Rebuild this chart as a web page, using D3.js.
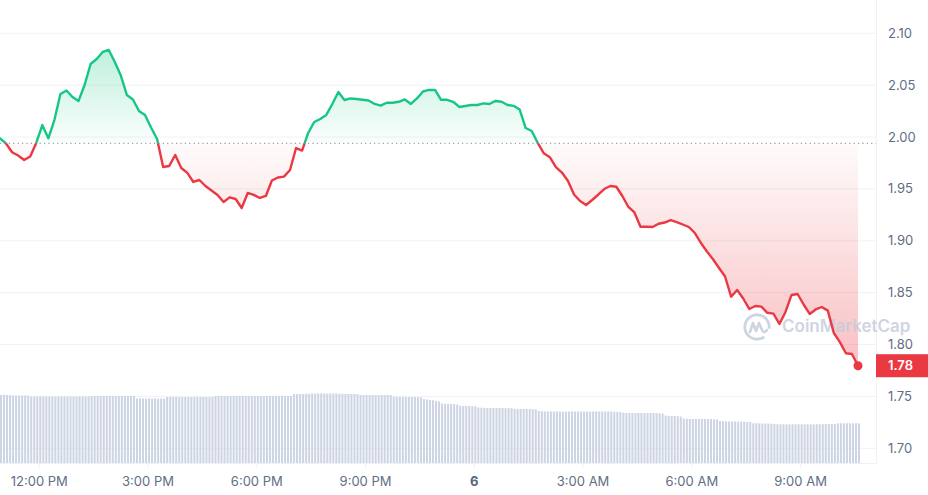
<!DOCTYPE html>
<html>
<head>
<meta charset="utf-8">
<script src="https://cdn.jsdelivr.net/npm/d3@7"></script>
<style>
  html, body { margin: 0; padding: 0; background: #fff; }
  #chart { width: 928px; height: 495px; }
  text { font-family: Inter, "Noto Sans", sans-serif; }
</style>
</head>
<body>
<div id="chart"></div>
<script>
// price: 10 minute samples, volume: 5 minute samples, both from 10:55 AM
const startTime = new Date(2024, 2, 5, 10, 55);
const priceStepMinutes = 10;
const volumeStepMinutes = 5;

const prices = [
  1.9988, 1.9938, 1.9853, 1.9822, 1.9779, 1.9813, 1.9943, 2.0116, 1.9988, 2.0164,
  2.0415, 2.0449, 2.0386, 2.0348, 2.0502, 2.0704, 2.0752, 2.0820, 2.0839, 2.0723,
  2.0593, 2.0405, 2.0362, 2.0251, 2.0213, 2.0092, 1.9981, 1.9711, 1.9721, 1.9827,
  1.9702, 1.9654, 1.9567, 1.9586, 1.9528, 1.9485, 1.9442, 1.9374, 1.9419, 1.9403,
  1.9316, 1.9461, 1.9442, 1.9413, 1.9432, 1.9581, 1.9610, 1.9619, 1.9682, 1.9894,
  1.9870, 2.0039, 2.0145, 2.0174, 2.0213, 2.0319, 2.0434, 2.0357, 2.0372, 2.0367,
  2.0359, 2.0352, 2.0319, 2.0303, 2.0331, 2.0331, 2.0340, 2.0362, 2.0319, 2.0372,
  2.0439, 2.0454, 2.0454, 2.0359, 2.0359, 2.0340, 2.0290, 2.0299, 2.0309, 2.0309,
  2.0325, 2.0319, 2.0348, 2.0340, 2.0309, 2.0301, 2.0266, 2.0087, 2.0058, 1.9943,
  1.9843, 1.9806, 1.9711, 1.9658, 1.9576, 1.9446, 1.9384, 1.9345, 1.9393, 1.9444,
  1.9499, 1.9528, 1.9521, 1.9432, 1.9326, 1.9273, 1.9136, 1.9136, 1.9133, 1.9164,
  1.9176, 1.9200, 1.9181, 1.9157, 1.9133, 1.9075, 1.8979, 1.8897, 1.8822, 1.8738,
  1.8656, 1.8461, 1.8526, 1.8444, 1.8343, 1.8372, 1.8365, 1.8306, 1.8298, 1.8198,
  1.8314, 1.8478, 1.8487, 1.8386, 1.8295, 1.8338, 1.8362, 1.8327, 1.8111, 1.8023,
  1.7916, 1.7909, 1.7796
];

// 24h volume, $M
const volumes = [
  68.0, 68.2, 68.0, 67.8,
  67.5, 67.5, 67.4, 67.5, 67.6, 67.5,
  66.5, 66.5, 66.4, 66.5, 66.5, 66.6, 66.5, 66.5, 66.4, 66.5,
  66.5, 66.5, 66.6, 66.5, 66.5, 66.4, 66.5, 66.5, 66.5, 66.5,
  67.0, 67.1, 67.0, 67.0, 67.2, 67.0, 67.0, 66.9, 67.0, 67.0,
  67.1, 67.0, 67.0, 67.0, 66.9,
  64.5, 64.6, 64.5, 64.4, 64.5, 64.5, 64.6, 64.5, 64.5, 64.4,
  66.0, 66.0, 66.1, 66.0, 66.0, 66.0, 65.9, 66.0, 66.0, 66.1,
  66.0, 66.0, 66.0, 66.0, 66.1, 66.0,
  67.0, 67.0, 67.1, 67.0, 67.0, 66.9, 67.0, 67.0, 67.0, 67.1,
  67.0, 67.0, 67.0, 67.0, 66.9, 67.0, 67.0, 67.1, 67.0, 67.0,
  67.0, 67.0, 67.1, 67.0, 67.0, 67.0,
  69.0, 69.0, 69.1, 69.0, 69.2, 69.3, 69.5, 69.4, 69.5, 69.6,
  69.5, 69.4, 69.5, 69.6, 69.5, 69.3, 69.2, 69.0, 69.0, 69.1,
  69.0, 69.0,
  68.0, 68.0, 68.1, 68.0, 68.0, 67.9, 68.0, 68.0, 68.0, 68.1,
  68.0,
  66.3, 66.2, 66.0, 66.0, 66.1, 66.0, 65.9, 66.0, 65.8, 65.6,
  64.0, 63.5, 63.0, 62.8, 62.0, 61.5,
  59.5, 59.3, 59.0, 59.0, 58.8, 58.5,
  57.3, 57.0, 57.0, 57.0, 56.9, 56.8,
  55.5, 55.3, 55.1, 55.0, 55.0, 55.0, 55.1, 55.0, 55.0, 54.9,
  54.9, 54.8,
  54.2, 54.1, 54.0, 54.0, 54.0, 53.9, 53.8, 53.7,
  52.0, 51.8, 51.6, 51.5, 51.5, 51.5, 51.6, 51.5, 51.5, 51.4,
  51.5, 51.5, 51.5, 51.6, 51.5, 51.5, 51.5, 51.4, 51.5, 51.5,
  51.5, 51.6, 51.5, 51.5, 51.4, 51.3, 51.2, 51.0,
  50.2, 50.1, 50.0, 50.0, 50.0, 50.1, 50.0, 50.0, 49.9, 50.0,
  50.0, 49.8, 49.6, 49.4,
  47.5, 47.2, 47.0, 47.0, 46.8, 46.5,
  44.5, 44.3, 44.1, 44.0, 44.0, 44.0, 44.1, 44.0, 43.9, 43.8,
  43.6, 43.4,
  42.0, 41.8, 41.6, 41.5, 41.5, 41.5, 41.4, 41.5, 41.4, 41.2,
  41.0,
  39.8, 39.7, 39.6, 39.5, 39.5, 39.4, 39.3, 39.1,
  38.8, 38.7, 38.7, 38.6, 38.7, 38.7, 38.7, 38.8, 38.7, 38.7,
  38.7, 38.6, 38.7, 38.7, 38.8, 38.8, 38.9, 38.9, 39.0, 39.1,
  39.7, 39.8, 39.7, 39.7, 39.7, 39.6, 39.7, 39.7
];

const openPrice = 1.994;
const priceTicks = [1.70, 1.75, 1.80, 1.85, 1.90, 1.95, 2.00, 2.05, 2.10];


class PriceChart {

  constructor(times, values, volTimes, volume) {

    this._times = times;
    this._values = values;
    this._volTimes = volTimes;
    this._volume = volume;

    this._width = 928;
    this._height = 495;
    this._dataRight = 858;
    this._plotRight = 876;
    this._plotBottom = 463;

    this._up = '#16c784';
    this._down = '#ea3943';
    this._muted = '#616e85';
    this._grid = '#eff2f5';
  }


  renderTo(selector) {

    this._container = d3.select(selector);
    this._container.selectAll('*').remove();

    this._svg = this._container
      .append('svg')
      .attr('width', this._width)
      .attr('height', this._height);

    this._x = d3.scaleTime()
      .domain(d3.extent(this._times))
      .range([0, this._dataRight]);

    this._y = d3.scaleLinear()
      .domain([1.70, 2.10])
      .range([448.3, 33.3]);

    this._yVol = d3.scaleLinear()
      .domain([0, 70])
      .range([this._plotBottom, this._plotBottom - 70]);

    this._defs = this._svg.append('defs');
    this._addGradients();

    this._drawGrid();
    this._drawVolume();
    this._drawArea();
    this._drawWatermark();
    this._drawLine();
    this._drawAxes();
    this._drawLastPrice();

    return this;
  }


  _addGradients() {

    const base = this._y(openPrice);

    const green = this._defs.append('linearGradient')
      .attr('id', 'grad-up')
      .attr('gradientUnits', 'userSpaceOnUse')
      .attr('x1', 0).attr('x2', 0)
      .attr('y1', this._y(d3.max(this._values)))
      .attr('y2', base);
    green.append('stop').attr('offset', 0).attr('stop-color', this._up).attr('stop-opacity', 0.27);
    green.append('stop').attr('offset', 1).attr('stop-color', this._up).attr('stop-opacity', 0.02);

    const red = this._defs.append('linearGradient')
      .attr('id', 'grad-down')
      .attr('gradientUnits', 'userSpaceOnUse')
      .attr('x1', 0).attr('x2', 0)
      .attr('y1', base)
      .attr('y2', this._y(d3.min(this._values)));
    red.append('stop').attr('offset', 0).attr('stop-color', this._down).attr('stop-opacity', 0.02);
    red.append('stop').attr('offset', 1).attr('stop-color', this._down).attr('stop-opacity', 0.32);

    this._defs.append('clipPath')
      .attr('id', 'clip-up')
      .append('rect')
      .attr('x', -5).attr('y', 0)
      .attr('width', this._plotRight + 10)
      .attr('height', base);

    this._defs.append('clipPath')
      .attr('id', 'clip-down')
      .append('rect')
      .attr('x', -5).attr('y', base)
      .attr('width', this._plotRight + 10)
      .attr('height', this._height - base);
  }


  _drawGrid() {

    this._svg.append('g')
      .attr('class', 'grid')
      .selectAll('line')
      .data(priceTicks)
      .enter()
      .append('line')
      .attr('x1', 0)
      .attr('x2', this._plotRight)
      .attr('y1', d => this._y(d))
      .attr('y2', d => this._y(d))
      .style('stroke', this._grid)
      .style('stroke-width', 1);

    this._svg.append('line')
      .attr('x1', this._plotRight + 0.5)
      .attr('x2', this._plotRight + 0.5)
      .attr('y1', 0)
      .attr('y2', this._plotBottom)
      .style('stroke', this._grid);
  }


  _drawVolume() {

    const step = this._x(this._volTimes[1]) - this._x(this._volTimes[0]);
    const bw = step - 1;

    this._svg.append('g')
      .attr('class', 'volume')
      .selectAll('rect')
      .data(this._volume)
      .enter()
      .append('rect')
      .attr('x', (d, i) => this._x(this._volTimes[i]))
      .attr('width', bw)
      .attr('y', d => this._yVol(d))
      .attr('height', d => this._plotBottom - this._yVol(d))
      .style('fill', '#cdd4e3');
  }


  _drawArea() {

    const area = d3.area()
      .x((d, i) => this._x(this._times[i]))
      .y0(this._y(openPrice))
      .y1(d => this._y(d));

    this._svg.append('path')
      .datum(this._values)
      .attr('d', area)
      .attr('clip-path', 'url(#clip-up)')
      .style('fill', 'url(#grad-up)');

    this._svg.append('path')
      .datum(this._values)
      .attr('d', area)
      .attr('clip-path', 'url(#clip-down)')
      .style('fill', 'url(#grad-down)');

    // open price reference
    this._svg.append('line')
      .attr('x1', 0)
      .attr('x2', this._plotRight)
      .attr('y1', this._y(openPrice))
      .attr('y2', this._y(openPrice))
      .style('stroke', '#9aa1af')
      .style('stroke-width', 1.2)
      .style('stroke-dasharray', '1.2,3.2');
  }


  _drawWatermark() {

    const g = this._svg.append('g')
      .attr('class', 'watermark')
      .attr('transform', 'translate(757,327)')
      .style('opacity', 0.8);

    g.append('path')
      .attr('d', d3.arc()
        .innerRadius(10.8)
        .outerRadius(13.6)
        .startAngle(2.5)
        .endAngle(2.5 + Math.PI * 1.75)())
      .style('fill', '#c3cbdb');

    g.append('path')
      .attr('d', 'M-7,5 L-4,-4 L-1,4 L2,-4 L5,3 Q7,7 10,3')
      .style('fill', 'none')
      .style('stroke', '#c3cbdb')
      .style('stroke-width', 2.6)
      .style('stroke-linejoin', 'round')
      .style('stroke-linecap', 'round');

    g.append('text')
      .attr('x', 25)
      .attr('y', 5)
      .style('font-size', '17px')
      .style('font-weight', 600)
      .style('fill', '#c3cbdb')
      .text('CoinMarketCap');
  }


  _drawLine() {

    const line = d3.line()
      .x((d, i) => this._x(this._times[i]))
      .y(d => this._y(d));

    [['clip-up', this._up], ['clip-down', this._down]].forEach(function(c) {
      this._svg.append('path')
        .datum(this._values)
        .attr('d', line)
        .attr('clip-path', 'url(#' + c[0] + ')')
        .style('fill', 'none')
        .style('stroke', c[1])
        .style('stroke-width', 2.4)
        .style('stroke-linejoin', 'round')
        .style('stroke-linecap', 'round');
    }, this);
  }


  _drawAxes() {

    const fmtTime = d3.timeFormat('%-I:%M %p');
    const fmtDay = d3.timeFormat('%-d');
    const ticks = this._x.ticks(d3.timeHour.every(3));

    const xg = this._svg.append('g').attr('class', 'x-axis');

    xg.append('line')
      .attr('x1', 0)
      .attr('x2', this._plotRight)
      .attr('y1', this._plotBottom + 0.5)
      .attr('y2', this._plotBottom + 0.5)
      .style('stroke', this._grid);

    xg.selectAll('line.tick')
      .data(ticks)
      .enter()
      .append('line')
      .attr('class', 'tick')
      .attr('x1', d => this._x(d))
      .attr('x2', d => this._x(d))
      .attr('y1', this._plotBottom)
      .attr('y2', this._plotBottom + 5)
      .style('stroke', this._grid);

    xg.selectAll('text')
      .data(ticks)
      .enter()
      .append('text')
      .attr('x', d => this._x(d))
      .attr('y', 481)
      .attr('dy', '0.35em')
      .attr('text-anchor', 'middle')
      .style('font-size', '13px')
      .style('font-weight', d => d.getHours() === 0 ? 700 : 400)
      .style('fill', d => d.getHours() === 0 ? '#58667e' : this._muted)
      .text(d => d.getHours() === 0 ? fmtDay(d) : fmtTime(d));

    this._svg.append('g')
      .attr('class', 'y-axis')
      .selectAll('text')
      .data(priceTicks)
      .enter()
      .append('text')
      .attr('x', 888)
      .attr('y', d => this._y(d))
      .attr('dy', '0.35em')
      .style('font-size', '13px')
      .style('fill', this._muted)
      .text(d => d.toFixed(2));
  }


  _drawLastPrice() {

    const last = this._values[this._values.length - 1];
    const lx = this._x(this._times[this._times.length - 1]);
    const ly = this._y(last);

    this._svg.append('circle')
      .attr('cx', lx)
      .attr('cy', ly)
      .attr('r', 4.5)
      .style('fill', this._down);

    this._svg.append('rect')
      .attr('x', this._plotRight)
      .attr('y', ly - 11.5)
      .attr('width', this._width - this._plotRight)
      .attr('height', 23)
      .style('fill', this._down);

    this._svg.append('text')
      .attr('x', 888)
      .attr('y', ly)
      .attr('dy', '0.36em')
      .style('font-size', '13px')
      .style('font-weight', 600)
      .style('fill', '#fff')
      .text(last.toFixed(2));
  }
}


const times = prices.map((d, i) => d3.timeMinute.offset(startTime, i * priceStepMinutes));
const volTimes = volumes.map((d, i) => d3.timeMinute.offset(startTime, i * volumeStepMinutes));
new PriceChart(times, prices, volTimes, volumes).renderTo('#chart');
</script>
</body>
</html>
